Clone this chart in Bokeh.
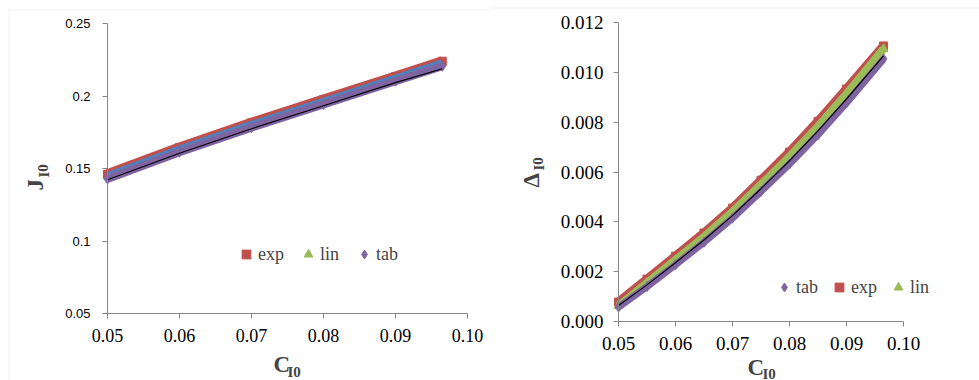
from bokeh.plotting import figure
from bokeh.layouts import row
from bokeh.models import Range1d, FixedTicker, Legend, LegendItem, Label, BoxAnnotation
from bokeh.embed import file_html
from bokeh.resources import INLINE

# ---------------- data ----------------
x1 = [0.05, 0.06, 0.07, 0.08, 0.09, 0.0965]
exp1 = [0.1460, 0.1645, 0.1815, 0.1975, 0.2135, 0.2240]
lin1 = [0.1448, 0.1632, 0.1802, 0.1962, 0.2122, 0.2228]
blue1 = [0.1450, 0.1634, 0.1804, 0.1964, 0.2124, 0.2228]
tab1 = [0.1428, 0.1612, 0.1782, 0.1942, 0.2102, 0.2205]
fit1 = [0.1422, 0.1605, 0.1774, 0.1933, 0.2092, 0.2188]

x2 = [0.05, 0.055, 0.06, 0.065, 0.07, 0.075, 0.08, 0.085, 0.09, 0.0965]
exp2 = [0.00078, 0.00170, 0.00262, 0.00355, 0.00455, 0.00567, 0.00680, 0.00803, 0.00933, 0.01106]
lin2 = [0.00062, 0.00155, 0.00247, 0.00340, 0.00440, 0.00550, 0.00662, 0.00783, 0.00913, 0.01094]
tab2 = [0.00058, 0.00140, 0.00228, 0.00318, 0.00415, 0.00522, 0.00632, 0.00750, 0.00877, 0.01054]
fit2 = [0.00064, 0.00147, 0.00236, 0.00327, 0.00425, 0.00533, 0.00645, 0.00765, 0.00893, 0.01066]

xticks = [0.05, 0.06, 0.07, 0.08, 0.09, 0.10]
xtick_labels = ["0.05", "0.06", "0.07", "0.08", "0.09", "0.10"]
yticks1 = [0.05, 0.10, 0.15, 0.20, 0.25]
ytick_labels1 = ["0.05", "0.1", "0.15", "0.2", "0.25"]
yticks2 = [0.0, 0.002, 0.004, 0.006, 0.008, 0.010, 0.012]
ytick_labels2 = ["0.000", "0.002", "0.004", "0.006", "0.008", "0.010", "0.012"]

RED = "#C0504D"
GREEN = "#9BBB59"
PURPLE = "#8064A2"
BLUE = "#4F81BD"
AXIS = "#868686"
BORDER = "#D0D0D0"
SERIF = "Liberation Serif"
H = 380


def make_fig(w, xlim, ylim, pad):
    # pad = (left, right, top, bottom) pixels between canvas edge and data box
    l, r, t, b = pad
    sx = (w - l - r) / (xlim[1] - xlim[0])
    sy = (H - t - b) / (ylim[1] - ylim[0])
    p = figure(width=w, height=H, output_backend="svg", toolbar_location=None,
               x_range=Range1d(xlim[0] - l / sx, xlim[1] + r / sx),
               y_range=Range1d(ylim[0] - b / sy, ylim[1] + t / sy),
               min_border_left=0, min_border_right=0, min_border_top=0, min_border_bottom=0)
    p.xgrid.visible = False
    p.ygrid.visible = False
    p.outline_line_color = None
    xa, ya = p.xaxis[0], p.yaxis[0]
    xa.fixed_location = ylim[0]
    ya.fixed_location = xlim[0]
    xa.bounds = xlim
    ya.bounds = ylim
    for ax in (xa, ya):
        ax.axis_line_color = AXIS
        ax.major_tick_line_color = AXIS
        ax.major_tick_out = 5
        ax.major_tick_in = 0
        ax.minor_tick_line_color = None
        ax.major_label_text_color = "black"
    return p


def series(p, x, y, color, marker, size, lw):
    p.line(x, y, line_color=color, line_width=lw)
    return p.scatter(x, y, marker=marker, size=size, fill_color=color, line_color=color)


def axis_title(p, main, x, y, sx, sy, angle=0.0):
    p.add_layout(Label(x=x, y=y, x_units="screen", y_units="screen", text=main,
                       text_font=SERIF, text_font_style="bold", text_font_size="23px",
                       angle=angle, text_align="left", text_baseline="middle"))
    p.add_layout(Label(x=sx, y=sy, x_units="screen", y_units="screen", text="I0",
                       text_font=SERIF, text_font_style="bold", text_font_size="15px",
                       angle=angle, text_align="left", text_baseline="middle"))


def border(p, left, top):
    p.add_layout(BoxAnnotation(left=left, right=2000, top=top, bottom=-50,
                               left_units="screen", right_units="screen",
                               top_units="screen", bottom_units="screen",
                               fill_alpha=0, line_color=BORDER, line_width=1, level="underlay"))


# ---------------- left chart ----------------
p1 = make_fig(490, (0.05, 0.10), (0.05, 0.25), (107, 23, 23, 67))
border(p1, 8.5, 370.5)
p1.xaxis[0].ticker = FixedTicker(ticks=xticks)
p1.xaxis[0].major_label_overrides = dict(zip(xticks, xtick_labels))
p1.yaxis[0].ticker = FixedTicker(ticks=yticks1)
p1.yaxis[0].major_label_overrides = dict(zip(yticks1, ytick_labels1))
p1.xaxis[0].major_label_text_font = SERIF
p1.xaxis[0].major_label_text_font_size = "18px"
p1.yaxis[0].major_label_text_font = "Liberation Sans"
p1.yaxis[0].major_label_text_font_size = "13px"
p1.xaxis[0].major_label_standoff = 10
p1.yaxis[0].major_label_standoff = 12

r_lin1 = series(p1, x1, lin1, GREEN, "triangle", 9, 9)
r_exp1 = series(p1, x1, exp1, RED, "square", 8, 10)
p1.line(x1, blue1, line_color=BLUE, line_width=7)
r_tab1 = series(p1, x1, tab1, PURPLE, "diamond", 10, 8)
p1.line(x1, fit1, line_color="black", line_width=1.2)

leg1 = Legend(items=[LegendItem(label="exp", renderers=[r_exp1]),
                     LegendItem(label="lin", renderers=[r_lin1]),
                     LegendItem(label="tab", renderers=[r_tab1])],
              orientation="horizontal", location=(235, 115),
              glyph_width=22, glyph_height=22, label_standoff=1, spacing=13,
              label_text_font=SERIF, label_text_font_size="18px",
              background_fill_alpha=0, border_line_color=None, padding=0, margin=0)
p1.add_layout(leg1)

axis_title(p1, "C", 273, 16, 287, 9)
axis_title(p1, "J", 35, 190, 43, 203, angle=1.5708)

# ---------------- right chart ----------------
p2 = make_fig(489, (0.05, 0.10), (0.0, 0.012), (128, 76, 22, 59))
border(p2, -50, 372.5)
p2.xaxis[0].ticker = FixedTicker(ticks=xticks)
p2.xaxis[0].major_label_overrides = dict(zip(xticks, xtick_labels))
p2.yaxis[0].ticker = FixedTicker(ticks=yticks2)
p2.yaxis[0].major_label_overrides = dict(zip(yticks2, ytick_labels2))
for ax in (p2.xaxis[0], p2.yaxis[0]):
    ax.major_label_text_font = SERIF
    ax.major_label_text_font_size = "19px"
    ax.major_label_standoff = 10

r_exp2 = series(p2, x2, exp2, RED, "square", 8, 9)
r_lin2 = series(p2, x2, lin2, GREEN, "triangle", 9, 8)
r_tab2 = series(p2, x2, tab2, PURPLE, "diamond", 10, 7)
p2.line(x2, fit2, line_color="black", line_width=1.2)

leg2 = Legend(items=[LegendItem(label="tab", renderers=[r_tab2]),
                     LegendItem(label="exp", renderers=[r_exp2]),
                     LegendItem(label="lin", renderers=[r_lin2])],
              orientation="horizontal", location=(283, 82),
              glyph_width=22, glyph_height=22, label_standoff=1, spacing=10,
              label_text_font=SERIF, label_text_font_size="18px",
              background_fill_alpha=0, border_line_color=None, padding=0, margin=0)
p2.add_layout(leg2)

axis_title(p2, "C", 257, 13, 272, 7)
axis_title(p2, "Δ", 41, 193, 48, 210, angle=1.5708)

layout = row(p1, p2, spacing=0)
open("out.html", "w").write(file_html(layout, INLINE))
